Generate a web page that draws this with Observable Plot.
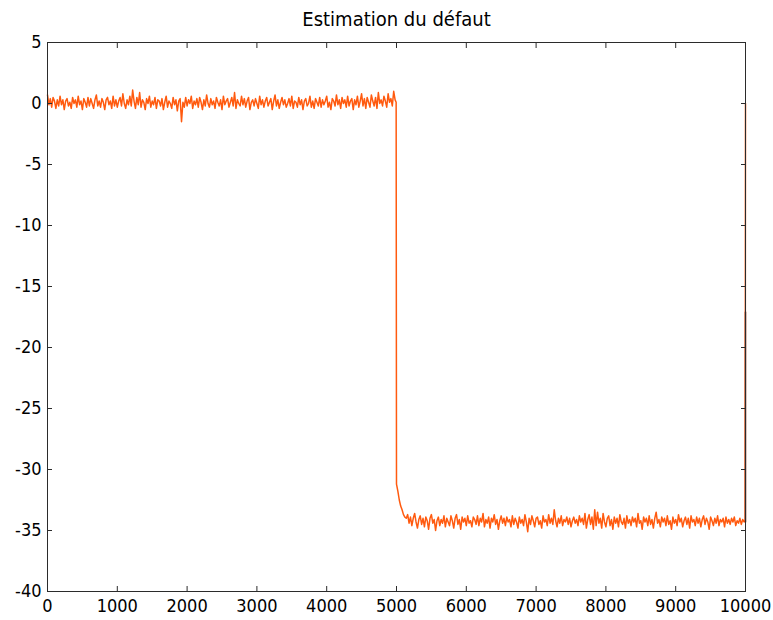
<!DOCTYPE html>
<html>
<head>
<meta charset="utf-8">
<script src="https://cdn.jsdelivr.net/npm/d3@7"></script>
<script src="https://cdn.jsdelivr.net/npm/@observablehq/plot@0.6"></script>
<style>
  html, body { margin: 0; padding: 0; background: #ffffff; }
  #chart svg { display: block; }
</style>
</head>
<body>
<div id="chart"></div>
<script>
const chartTitle = "Estimation du défaut";
const xTicks = [0, 1000, 2000, 3000, 4000, 5000, 6000, 7000, 8000, 9000, 10000];
const yTicks = [5, 0, -5, -10, -15, -20, -25, -30, -35, -40];

// Before the fault: samples from x = 0, every 20
const sampleStep = 20;
const preFault = [
  0.7, -0.1, 0.4, -0.3, 0.5, 0.2, -0.4, 0.3, -0.2, 0.6,
  -0.1, 0.3, -0.5, 0.2, 0.4, -0.2, 0.1, -0.4, 0.5, 0.0,
  0.3, -0.3, 0.6, -0.1, 0.2, -0.5, 0.4, 0.1, -0.3, 0.5,
  -0.2, 0.4, 0.0, -0.4, 0.3, 0.7, -0.2, 0.2, -0.3, 0.4,
  0.1, -0.5, 0.3, 0.5, -0.1, 0.2, -0.4, 0.6, -0.2, 0.3,
  -0.3, 0.2, 0.5, -0.2, 0.8, 0.0, -0.4, 0.3, -0.1, 0.6,
  -0.2, 1.1, 0.2, -0.4, 0.5, -0.1, 0.9, -0.3, 0.3, 0.1,
  -0.5, 0.4, 0.0, 0.6, -0.3, 0.2, -0.1, 0.5, -0.4, 0.3,
  0.2, -0.2, 0.4, -0.5, 0.1, 0.6, -0.3, 0.2, 0.0, -0.4,
  0.5, -0.1, 0.3, -0.6, 0.2, 0.4, -1.5, 0.1, -0.3, 0.5,
  -0.2, 0.3, 0.0, 0.6, -0.4, 0.2, -0.1, 0.4, -0.3, 0.5,
  0.1, -0.5, 0.3, -0.2, 0.7, 0.0, -0.3, 0.4, -0.1, 0.2,
  -0.4, 0.5, 0.1, -0.2, 0.3, -0.5, 0.6, -0.1, 0.2, 0.4,
  -0.3, 0.1, 0.5, -0.2, 0.9, -0.4, 0.3, 0.0, -0.2, 0.6,
  -0.1, 0.4, -0.3, 0.2, 0.5, -0.5, 0.1, 0.3, -0.2, 0.4,
  0.0, -0.4, 0.6, -0.1, 0.3, -0.3, 0.2, 0.5, -0.2, 0.1,
  0.4, -0.5, 0.2, 0.7, -0.2, 0.3, -0.4, 0.1, 0.5, -0.1,
  0.3, -0.3, 0.0, 0.4, -0.2, 0.6, -0.4, 0.2, 0.1, -0.3,
  0.5, -0.1, 0.3, -0.5, 0.2, 0.4, -0.2, 0.0, 0.6, -0.3,
  0.2, -0.4, 0.4, 0.1, -0.2, 0.5, -0.3, 0.3, -0.1, 0.2,
  0.6, -0.3, 0.1, -0.5, 0.4, 0.2, -0.2, 0.7, -0.1, 0.3,
  -0.4, 0.5, 0.0, 0.3, -0.3, 0.6, -0.2, 0.2, 0.4, -0.5,
  0.3, -0.1, 0.6, -0.3, 0.2, 0.8, -0.2, 0.4, -0.4, 0.5,
  0.1, -0.3, 0.7, 0.2, -0.2, 0.5, -0.4, 0.9, 0.0, 0.3,
  -0.2, 0.6, 0.2, -0.3, 0.8, 0.1, 0.4, -0.2, 1.0, 0.3
];

// The drop at the fault
const transitionX = [4995, 5000, 5020, 5040, 5060, 5080, 5100, 5120, 5140];
const transitionY = [0.1, -31.2, -31.8, -32.5, -33.0, -33.3, -33.7, -33.9, -34.0];

// After the fault: samples from x = 5160, every 20
const postStart = 5160;
const postFault = [
  -33.7, -34.4, -33.9, -34.6, -34.0, -33.6, -34.3, -34.8, -34.1, -33.8,
  -34.5, -34.0, -34.7, -33.9, -34.2, -34.9, -34.0, -33.7, -34.4, -34.1,
  -35.0, -34.2, -33.9, -34.6, -34.1, -34.4, -33.8, -34.7, -34.0, -34.3,
  -34.6, -33.8, -34.2, -34.8, -34.0, -33.7, -34.5, -34.1, -34.9, -33.9,
  -34.3, -34.0, -34.6, -33.8, -34.4, -34.2, -34.7, -33.9, -34.1, -34.5,
  -33.8, -34.6, -34.0, -34.3, -33.6, -34.7, -34.1, -34.4, -33.9, -34.8,
  -34.0, -34.3, -33.7, -34.5, -34.1, -34.9, -34.2, -33.8, -34.4, -34.0,
  -34.6, -33.9, -34.3, -34.1, -34.7, -33.8, -34.5, -34.0, -34.3, -34.8,
  -33.9, -34.4, -34.1, -34.6, -33.7, -34.3, -35.1, -34.0, -34.5, -33.8,
  -34.2, -34.7, -34.0, -33.9, -34.5, -34.2, -34.8, -33.8, -34.3, -34.1,
  -34.6, -33.7, -34.4, -34.0, -34.5, -33.3, -34.2, -34.7, -34.0, -34.4,
  -33.8, -34.6, -34.1, -34.3, -33.9, -34.5, -34.0, -34.7, -34.2, -33.9,
  -34.4, -34.1, -34.6, -33.8, -34.3, -34.0, -34.5, -33.6, -34.8, -34.1,
  -33.7, -34.5, -33.9, -34.9, -33.3, -34.6, -33.5, -34.4, -34.0, -34.8,
  -33.6, -34.3, -34.7, -34.0, -33.8, -34.6, -34.1, -34.9, -33.9, -34.4,
  -34.0, -34.7, -33.7, -34.3, -34.5, -34.0, -34.8, -33.8, -34.4, -34.1,
  -34.6, -33.9, -34.3, -34.0, -34.7, -33.6, -34.4, -34.2, -34.9, -33.9,
  -34.3, -34.0, -34.6, -33.8, -34.5, -34.1, -34.8, -34.0, -33.5, -34.4,
  -34.1, -34.7, -33.9, -34.3, -34.0, -34.6, -33.8, -34.5, -34.2, -34.9,
  -33.9, -34.4, -34.1, -34.6, -33.7, -34.3, -34.0, -34.7, -34.2, -33.9,
  -34.5, -34.0, -34.8, -33.8, -34.3, -34.1, -34.6, -33.9, -34.4, -34.0,
  -34.7, -34.1, -33.8, -34.5, -34.0, -34.3, -34.9, -33.9, -34.2, -34.6,
  -34.0, -34.4, -33.8, -34.6, -34.1, -34.3, -34.0, -34.7, -33.9, -34.4,
  -34.1, -34.5, -34.0, -34.3, -33.9, -34.6, -34.2, -34.4, -34.0, -34.5,
  -34.1, -34.3
];

// Return at the very end
const endX = [9995, 10000];
const endY = [-34.2, 0.0];

// Dark overlapping segment at x = 10000
const darkX = [10000, 10000];
const darkY = [-17.1, -34.3];

const series = [];
preFault.forEach((v, i) => series.push({x: i * sampleStep, y: v}));
transitionX.forEach((x, i) => series.push({x, y: transitionY[i]}));
postFault.forEach((v, i) => series.push({x: postStart + i * sampleStep, y: v}));
endX.forEach((x, i) => series.push({x, y: endY[i]}));
const darkSeries = darkX.map((x, i) => ({x, y: darkY[i]}));

const font = "'DejaVu Sans Condensed', 'DejaVu Sans', sans-serif";
const axisColor = "#2b2b2b";
const tickLen = 5;

const chart = Plot.plot({
  width: 773,
  height: 620,
  marginLeft: 47,
  marginRight: 28,
  marginTop: 42,
  marginBottom: 29,
  style: {fontFamily: font, fontStretch: "condensed", fontSize: "18px", color: "#000", background: "#ffffff"},
  x: {domain: [0, 10000], label: null},
  y: {domain: [-40, 5], label: null},
  marks: [
    Plot.line(series, {x: "x", y: "y", stroke: "#ff5a0f", strokeWidth: 1.5, curve: "linear"}),
    Plot.line(darkSeries, {x: "x", y: "y", stroke: "#7a1a00", strokeWidth: 1.5}),
    Plot.frame({stroke: axisColor, strokeWidth: 1}),
    Plot.axisX(xTicks, {anchor: "bottom", tickSize: 0, tickPadding: 8, label: null, tickFormat: d => String(d), fill: "#000", fontSize: 18}),
    Plot.axisX(xTicks, {anchor: "bottom", tickSize: tickLen, dy: -tickLen, fill: "none", label: null, stroke: axisColor}),
    Plot.axisX(xTicks, {anchor: "top", tickSize: tickLen, dy: tickLen, fill: "none", label: null, stroke: axisColor}),
    Plot.axisY(yTicks, {anchor: "left", tickSize: 0, tickPadding: 6, label: null, tickFormat: d => String(d), fill: "#000", fontSize: 18}),
    Plot.axisY(yTicks, {anchor: "left", tickSize: tickLen, dx: tickLen, fill: "none", label: null, stroke: axisColor}),
    Plot.axisY(yTicks, {anchor: "right", tickSize: tickLen, dx: -tickLen, fill: "none", label: null, stroke: axisColor}),
    Plot.text([chartTitle], {text: d => d, frameAnchor: "top", dy: -23, lineAnchor: "middle", fontSize: 20, fill: "#000"})
  ]
});
document.getElementById("chart").appendChild(chart);
</script>
</body>
</html>
